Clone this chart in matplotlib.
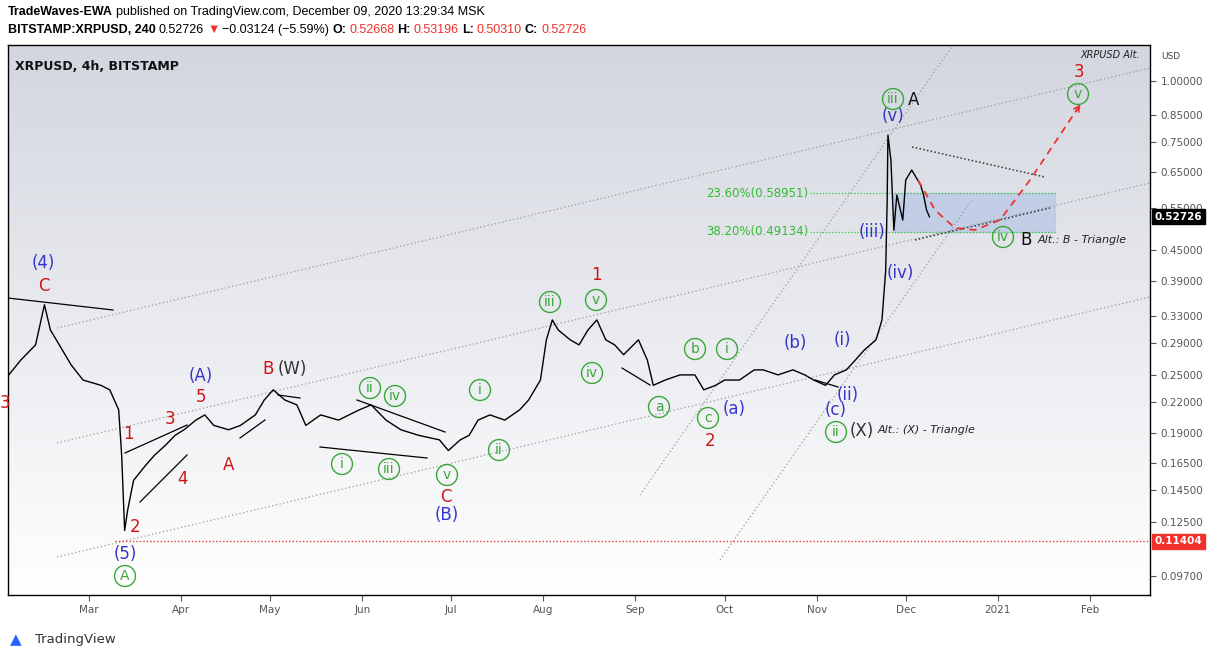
import datetime as dt
import numpy as np
import matplotlib.pyplot as plt
import matplotlib.dates as mdates
from matplotlib.ticker import FixedLocator, FuncFormatter, NullLocator

# ---- price path ----
dates = ["2020-02-03", "2020-02-07", "2020-02-12", "2020-02-15", "2020-02-17", "2020-02-20",
         "2020-02-24", "2020-02-28", "2020-03-05", "2020-03-08", "2020-03-11", "2020-03-12",
         "2020-03-13", "2020-03-14", "2020-03-16", "2020-03-20", "2020-03-23", "2020-03-27",
         "2020-03-30", "2020-04-02", "2020-04-06", "2020-04-09", "2020-04-12", "2020-04-17",
         "2020-04-21", "2020-04-26", "2020-04-29", "2020-05-02", "2020-05-06", "2020-05-10",
         "2020-05-13", "2020-05-18", "2020-05-24", "2020-05-31", "2020-06-04", "2020-06-09",
         "2020-06-14", "2020-06-20", "2020-06-27", "2020-06-30", "2020-07-04", "2020-07-07",
         "2020-07-10", "2020-07-14", "2020-07-19", "2020-07-24", "2020-07-27", "2020-07-31",
         "2020-08-02", "2020-08-04", "2020-08-06", "2020-08-10", "2020-08-13", "2020-08-16",
         "2020-08-19", "2020-08-22", "2020-08-25", "2020-08-28", "2020-09-02", "2020-09-05",
         "2020-09-07", "2020-09-11", "2020-09-16", "2020-09-21", "2020-09-24", "2020-09-28",
         "2020-10-01", "2020-10-06", "2020-10-11", "2020-10-14", "2020-10-19", "2020-10-24",
         "2020-10-28", "2020-10-31", "2020-11-04", "2020-11-07", "2020-11-11", "2020-11-14",
         "2020-11-17", "2020-11-21", "2020-11-23", "2020-11-24 06:00", "2020-11-24 18:00",
         "2020-11-25", "2020-11-26", "2020-11-27", "2020-11-28", "2020-11-30", "2020-12-01",
         "2020-12-03", "2020-12-04", "2020-12-06", "2020-12-07", "2020-12-08", "2020-12-09"]
prices = [0.250, 0.268, 0.288, 0.348, 0.309, 0.288, 0.262, 0.244, 0.238, 0.233, 0.212, 0.171,
          0.120, 0.132, 0.152, 0.163, 0.171, 0.180, 0.188, 0.193, 0.202, 0.207, 0.197, 0.193,
          0.197, 0.207, 0.222, 0.233, 0.222, 0.217, 0.197, 0.207, 0.202, 0.212, 0.217, 0.202,
          0.193, 0.188, 0.184, 0.175, 0.184, 0.188, 0.202, 0.207, 0.202, 0.212, 0.222, 0.244,
          0.295, 0.324, 0.309, 0.295, 0.288, 0.309, 0.324, 0.295, 0.288, 0.275, 0.295, 0.268,
          0.238, 0.244, 0.250, 0.250, 0.233, 0.238, 0.244, 0.244, 0.256, 0.256, 0.250, 0.256,
          0.250, 0.244, 0.238, 0.250, 0.256, 0.268, 0.281, 0.295, 0.324, 0.410, 0.571, 0.775,
          0.689, 0.495, 0.584, 0.519, 0.627, 0.657, 0.642, 0.612, 0.584, 0.544, 0.527]

y_ticks = [0.097, 0.125, 0.145, 0.165, 0.19, 0.22, 0.25, 0.29, 0.33, 0.39, 0.45, 0.55,
           0.65, 0.75, 0.85, 1.0]
fib_levels = [0.58951, 0.49134]
fib_labels = ["23.60%(0.58951)", "38.20%(0.49134)"]
low_level = 0.11404
last_price = 0.52726

W, H = 1212, 658
fig = plt.figure(figsize=(W / 100, H / 100), dpi=100)
L, R, T, B = 8, 1150, 45, 595
ax = fig.add_axes([L / W, 1 - B / H, (R - L) / W, (B - T) / H])

mar1 = mdates.date2num(dt.datetime(2020, 3, 1))


def P(xp, yp):
    # pixel of the reference -> data coords
    return mar1 + (xp - 89) / 2.97, np.exp((81 - yp) / 212)


x0, y0 = P(L, B)
x1, y1 = P(R, T)
ax.set_xlim(x0, x1)
ax.set_yscale("log")
ax.set_ylim(y0, y1)

# background gradient
grad = np.linspace(0, 1, 256).reshape(-1, 1)
ax.imshow(grad, extent=[0, 1, 0, 1], transform=ax.transAxes, aspect="auto",
          cmap=plt.matplotlib.colors.LinearSegmentedColormap.from_list("bg", ["#ffffff", "#d3d6df"]),
          origin="lower", zorder=0)

xs = mdates.date2num([dt.datetime.fromisoformat(d) for d in dates])
ax.plot(xs, prices, color="black", lw=1.0, zorder=3)

# channel / guide lines (dotted grey)
for (a, b) in [((57, 328), (1150, 68)), ((57, 443), (1150, 183)), ((57, 557), (1150, 297)),
               ((640, 495), (953, 45)), ((720, 560), (972, 200))]:
    xa, ya = P(*a)
    xb, yb = P(*b)
    ax.plot([xa, xb], [ya, yb], color="#9a9a9a", lw=0.9, ls=(0, (1, 2)), zorder=2)

# wave structure lines
for (a, b) in [((8, 298), (113, 310)), ((125, 453), (187, 425)), ((140, 502), (187, 455)),
               ((320, 447), (427, 458)), ((357, 400), (445, 432)), ((622, 368), (650, 385)),
               ((815, 380), (838, 387)), ((240, 438), (265, 420)), ((278, 395), (300, 398))]:
    xa, ya = P(*a)
    xb, yb = P(*b)
    ax.plot([xa, xb], [ya, yb], color="black", lw=0.9, zorder=3)

# triangle (dotted black)
for (a, b) in [((912, 147), (1045, 177)), ((915, 240), (1050, 208))]:
    xa, ya = P(*a)
    xb, yb = P(*b)
    ax.plot([xa, xb], [ya, yb], color="#333333", lw=1.1, ls=(0, (1, 1.5)), zorder=3)

# fibonacci zone
fx0, _ = P(810, 0)
fx1, _ = P(1055, 0)
bx0, _ = P(893, 0)
ax.fill_between([bx0, fx1], fib_levels[1], fib_levels[0], color="#b5c6e6", alpha=0.7, zorder=1)
for lv, lab in zip(fib_levels, fib_labels):
    ax.plot([fx0, fx1], [lv, lv], color="#33cc33", lw=0.9, ls=(0, (1, 1.5)), zorder=2)
    ax.text(P(808, 0)[0], lv, lab, color="#33bb33", fontsize=8.5, ha="right", va="center")

# lowest low
ax.plot([P(115, 0)[0], x1], [low_level, low_level], color="#e53935", lw=1, ls=(0, (1, 1.5)), zorder=2)

# projected path
path_px = [(918, 180), (935, 210), (955, 228), (975, 230), (1000, 220), (1030, 180), (1060, 135), (1080, 105)]
px = [P(*p) for p in path_px]
ax.plot([p[0] for p in px], [p[1] for p in px], color="#ee3333", lw=1.3, ls=(0, (4, 3)), zorder=4)
ax.annotate("", xy=P(1082, 102), xytext=P(1074, 114),
            arrowprops=dict(arrowstyle="->", color="#ee3333", lw=1.2))

RED, BLUE, GREEN, DARK = "#d11515", "#3535cc", "#3aa63a", "#333333"
labels = [("(4)", 43, 263, BLUE), ("C", 44, 286, RED), ("3", 5, 403, RED), ("1", 128, 434, RED),
          ("2", 135, 527, RED), ("3", 170, 419, RED), ("4", 182, 479, RED), ("5", 201, 397, RED),
          ("(A)", 201, 376, BLUE), ("A", 229, 465, RED), ("B", 268, 369, RED), ("(W)", 292, 369, DARK),
          ("(5)", 125, 554, BLUE), ("C", 446, 497, RED), ("(B)", 447, 515, BLUE), ("1", 596, 275, RED),
          ("2", 710, 441, RED), ("(b)", 795, 343, BLUE), ("(a)", 734, 409, BLUE), ("(i)", 842, 340, BLUE),
          ("(ii)", 848, 395, BLUE), ("(c)", 836, 410, BLUE), ("(X)", 862, 431, DARK),
          ("(iii)", 872, 232, BLUE), ("(iv)", 900, 273, BLUE), ("(v)", 893, 116, BLUE),
          ("A", 914, 100, "#111111"), ("B", 1026, 240, "#111111"), ("3", 1079, 72, RED)]
for t, x, y, c in labels:
    ax.text(*P(x, y), t, color=c, fontsize=12, ha="center", va="center", zorder=5)

circled = [("A", 125, 576), ("i", 342, 464), ("ii", 370, 388), ("iv", 395, 396), ("iii", 389, 469),
           ("v", 447, 475), ("i", 480, 390), ("ii", 499, 450), ("iii", 550, 302), ("v", 596, 300),
           ("iv", 592, 373), ("a", 659, 407), ("c", 708, 418), ("b", 695, 349), ("i", 727, 349),
           ("ii", 836, 432), ("iii", 893, 99), ("iv", 1003, 237), ("v", 1078, 94)]
for t, x, y in circled:
    ax.text(*P(x, y), t, color=GREEN, fontsize=10, ha="center", va="center", zorder=5,
            bbox=dict(boxstyle="circle,pad=0.25", fc="none", ec=GREEN, lw=1))

ax.text(*P(927, 430), "Alt.: (X) - Triangle", fontsize=8, style="italic", color="#222222", ha="center", va="center")
ax.text(*P(1082, 240), "Alt.: B - Triangle", fontsize=8, style="italic", color="#222222", ha="center", va="center")
ax.text(*P(1110, 55), "XRPUSD Alt.", fontsize=7, style="italic", color="#222222", ha="center", va="center")
ax.text(0.006, 0.96, "XRPUSD, 4h, BITSTAMP", transform=ax.transAxes, fontsize=9,
        fontweight="bold", color="#111111", va="center")

# axes styling
ax.yaxis.tick_right()
ax.yaxis.set_major_locator(FixedLocator(y_ticks))
ax.yaxis.set_minor_locator(NullLocator())
ax.yaxis.set_major_formatter(FuncFormatter(lambda v, p: f"{v:.5f}"))
ax.tick_params(axis="y", labelsize=7.5, colors="#555555", length=4)
months = [dt.datetime(2020, m, 1) for m in range(3, 13)] + [dt.datetime(2021, 1, 1), dt.datetime(2021, 2, 1)]
ax.xaxis.set_major_locator(FixedLocator(mdates.date2num(months)))
ax.xaxis.set_major_formatter(FuncFormatter(
    lambda v, p: "2021" if mdates.num2date(v).month == 1 else mdates.num2date(v).strftime("%b")))
ax.tick_params(axis="x", labelsize=7.5, colors="#555555", length=4)
for s in ax.spines.values():
    s.set_color("black")
    s.set_linewidth(1)
ax.text(1.018, 0.975, "USD", transform=ax.transAxes, fontsize=6.5, color="#444444", ha="center")
ax.text(1.004, last_price, f"{last_price:.5f}", transform=ax.get_yaxis_transform(), fontsize=7.5,
        color="white", fontweight="bold", va="center", bbox=dict(boxstyle="square,pad=0.25", fc="black", ec="black"))
ax.text(1.004, low_level, f"{low_level:.5f}", transform=ax.get_yaxis_transform(), fontsize=7.5,
        color="white", fontweight="bold", va="center", bbox=dict(boxstyle="square,pad=0.25", fc="#f0302a", ec="#f0302a"))

# header: pieces laid out one after another using measured widths
renderer = fig.canvas.get_renderer()


def text_row(pieces, x_px, y_px):
    x = x_px
    for s, color, bold in pieces:
        t = fig.text(x / W, 1 - y_px / H, s, fontsize=9, color=color, va="center",
                     fontweight="bold" if bold else "normal", family="Liberation Sans")
        x += t.get_window_extent(renderer).width + 3


text_row([("TradeWaves-EWA", "black", True),
          ("published on TradingView.com, December 09, 2020 13:29:34 MSK", "black", False)], 8, 12)
row2 = [("BITSTAMP:XRPUSD, 240", "black", True), ("0.52726", "black", False), ("\u25bc", "#f0302a", False),
        ("\u22120.03124 (\u22125.59%)", "black", False)]
for lab, val in [("O:", "0.52668"), ("H:", "0.53196"), ("L:", "0.50310"), ("C:", "0.52726")]:
    row2 += [(lab, "black", True), (val, "#f0302a", False)]
text_row(row2, 8, 30)

fig.text(35 / W, 1 - 640 / H, "TradingView", fontsize=9.5, color="#333333", va="center")
fig.text(10 / W, 1 - 640 / H, "\u25b2", fontsize=11, color="#2962ff", va="center")

fig.savefig("out.png", dpi=100)
